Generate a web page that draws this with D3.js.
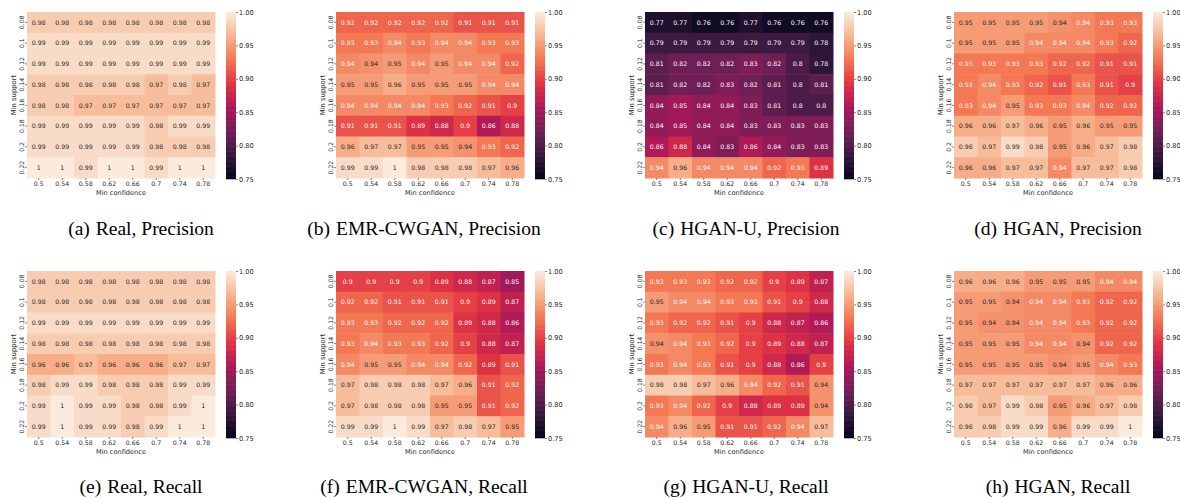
<!DOCTYPE html>
<html>
<head>
<meta charset="utf-8">
<script src="https://cdn.jsdelivr.net/npm/d3@7"></script>
<style>
  html, body { margin: 0; padding: 0; background: #fff; }
  svg { display: block; }
</style>
</head>
<body>
<svg id="chart" width="1180" height="499"></svg>
<script>
// ---------------- DATA ----------------
const minConfidence = ["0.5", "0.54", "0.58", "0.62", "0.66", "0.7", "0.74", "0.78"];
const minSupport = ["0.08", "0.1", "0.12", "0.14", "0.16", "0.18", "0.2", "0.22"];
const colorbarTicks = [0.75, 0.80, 0.85, 0.90, 0.95, 1.00];

const realPrecision = [
  [0.98, 0.98, 0.98, 0.98, 0.98, 0.98, 0.98, 0.98],
  [0.99, 0.99, 0.99, 0.99, 0.99, 0.99, 0.99, 0.99],
  [0.99, 0.99, 0.99, 0.99, 0.99, 0.99, 0.99, 0.99],
  [0.98, 0.98, 0.98, 0.98, 0.98, 0.97, 0.98, 0.97],
  [0.98, 0.98, 0.97, 0.97, 0.97, 0.97, 0.97, 0.97],
  [0.99, 0.99, 0.99, 0.99, 0.99, 0.98, 0.99, 0.99],
  [0.99, 0.99, 0.99, 0.99, 0.99, 0.98, 0.98, 0.98],
  [1, 1, 0.99, 1, 1, 0.99, 1, 1]
];
const emrPrecision = [
  [0.92, 0.92, 0.92, 0.92, 0.92, 0.91, 0.91, 0.91],
  [0.93, 0.93, 0.94, 0.93, 0.94, 0.94, 0.93, 0.93],
  [0.94, 0.9449, 0.95, 0.94, 0.95, 0.94, 0.94, 0.92],
  [0.95, 0.95, 0.96, 0.95, 0.95, 0.95, 0.94, 0.94],
  [0.94, 0.94, 0.94, 0.94, 0.93, 0.92, 0.91, 0.90],
  [0.91, 0.91, 0.91, 0.89, 0.88, 0.90, 0.86, 0.88],
  [0.96, 0.97, 0.97, 0.95, 0.95, 0.9449, 0.93, 0.92],
  [0.99, 0.99, 1, 0.98, 0.98, 0.98, 0.97, 0.96]
];
const hganuPrecision = [
  [0.77, 0.77, 0.76, 0.76, 0.77, 0.76, 0.76, 0.76],
  [0.79, 0.79, 0.79, 0.79, 0.79, 0.79, 0.79, 0.78],
  [0.81, 0.82, 0.82, 0.82, 0.83, 0.82, 0.80, 0.78],
  [0.81, 0.82, 0.82, 0.83, 0.82, 0.81, 0.80, 0.81],
  [0.84, 0.85, 0.84, 0.84, 0.83, 0.81, 0.80, 0.80],
  [0.84, 0.85, 0.84, 0.84, 0.83, 0.83, 0.83, 0.83],
  [0.86, 0.88, 0.84, 0.83, 0.86, 0.84, 0.83, 0.83],
  [0.94, 0.96, 0.94, 0.94, 0.94, 0.92, 0.93, 0.89]
];
const hganPrecision = [
  [0.95, 0.95, 0.95, 0.95, 0.9449, 0.94, 0.93, 0.93],
  [0.95, 0.95, 0.95, 0.94, 0.94, 0.94, 0.93, 0.92],
  [0.93, 0.93, 0.93, 0.93, 0.92, 0.92, 0.91, 0.91],
  [0.93, 0.94, 0.93, 0.92, 0.91, 0.93, 0.91, 0.90],
  [0.93, 0.94, 0.95, 0.93, 0.93, 0.94, 0.92, 0.92],
  [0.96, 0.96, 0.97, 0.96, 0.95, 0.96, 0.95, 0.95],
  [0.98, 0.97, 0.99, 0.98, 0.95, 0.96, 0.97, 0.98],
  [0.96, 0.96, 0.97, 0.97, 0.94, 0.97, 0.97, 0.98]
];
const realRecall = [
  [0.98, 0.98, 0.98, 0.98, 0.98, 0.98, 0.98, 0.98],
  [0.98, 0.98, 0.98, 0.98, 0.98, 0.98, 0.98, 0.98],
  [0.99, 0.99, 0.99, 0.99, 0.99, 0.99, 0.99, 0.99],
  [0.98, 0.98, 0.98, 0.98, 0.98, 0.98, 0.98, 0.98],
  [0.96, 0.96, 0.97, 0.96, 0.96, 0.96, 0.97, 0.97],
  [0.98, 0.99, 0.99, 0.98, 0.98, 0.98, 0.99, 0.99],
  [0.99, 1, 0.99, 0.99, 0.98, 0.98, 0.99, 1],
  [0.99, 1, 0.99, 0.99, 0.98, 0.99, 1, 1]
];
const emrRecall = [
  [0.90, 0.90, 0.90, 0.90, 0.89, 0.88, 0.87, 0.85],
  [0.92, 0.92, 0.91, 0.91, 0.91, 0.90, 0.89, 0.87],
  [0.93, 0.93, 0.92, 0.92, 0.92, 0.89, 0.88, 0.86],
  [0.93, 0.94, 0.93, 0.93, 0.92, 0.90, 0.88, 0.87],
  [0.94, 0.95, 0.95, 0.94, 0.94, 0.92, 0.89, 0.91],
  [0.97, 0.98, 0.98, 0.98, 0.97, 0.96, 0.91, 0.92],
  [0.97, 0.98, 0.98, 0.98, 0.95, 0.95, 0.91, 0.92],
  [0.99, 0.99, 1, 0.99, 0.97, 0.98, 0.97, 0.95]
];
const hganuRecall = [
  [0.93, 0.93, 0.93, 0.92, 0.92, 0.90, 0.89, 0.87],
  [0.95, 0.94, 0.94, 0.93, 0.93, 0.91, 0.90, 0.88],
  [0.93, 0.92, 0.92, 0.91, 0.90, 0.88, 0.87, 0.86],
  [0.9449, 0.94, 0.93, 0.92, 0.90, 0.89, 0.88, 0.87],
  [0.93, 0.94, 0.93, 0.91, 0.90, 0.88, 0.86, 0.90],
  [0.98, 0.98, 0.97, 0.96, 0.94, 0.92, 0.91, 0.9449],
  [0.93, 0.94, 0.92, 0.90, 0.88, 0.89, 0.89, 0.9449],
  [0.94, 0.96, 0.95, 0.91, 0.91, 0.92, 0.94, 0.97]
];
const hganRecall = [
  [0.96, 0.96, 0.96, 0.95, 0.95, 0.95, 0.94, 0.94],
  [0.95, 0.95, 0.9449, 0.94, 0.94, 0.93, 0.92, 0.92],
  [0.95, 0.9449, 0.9449, 0.94, 0.94, 0.93, 0.92, 0.92],
  [0.95, 0.95, 0.95, 0.94, 0.94, 0.9449, 0.92, 0.92],
  [0.95, 0.95, 0.95, 0.95, 0.9449, 0.95, 0.94, 0.93],
  [0.97, 0.97, 0.97, 0.97, 0.97, 0.97, 0.96, 0.96],
  [0.98, 0.97, 0.99, 0.98, 0.95, 0.96, 0.97, 0.98],
  [0.98, 0.98, 0.99, 0.99, 0.96, 0.99, 0.99, 1]
];

const captionLetters = ["(a)", "(b)", "(c)", "(d)", "(e)", "(f)", "(g)", "(h)"];
const captionTexts = [
  "Real, Precision", "EMR-CWGAN, Precision", "HGAN-U, Precision", "HGAN, Precision",
  "Real, Recall", "EMR-CWGAN, Recall", "HGAN-U, Recall", "HGAN, Recall"
];
const panelData = [realPrecision, emrPrecision, hganuPrecision, hganPrecision,
                   realRecall, emrRecall, hganuRecall, hganRecall];

// ---------------- LAYOUT ----------------
const colLeft = [27, 336, 645, 954];
const rowTop = [12, 271];
const cellW = 188, cellH = 166;
const captionCX = [141, 424, 746, 1058];
const captionY = [235, 493];

// rocket colormap (seaborn) approximation, vmin 0.75, vmax 1.0
const rocketStops = ["#03051a", "#35193e", "#701f57", "#ad1759", "#e13342", "#f37651", "#f6b48f", "#faebdd"];
const rocketPos = [0, 1/7, 2/7, 3/7, 4/7, 5/7, 6/7, 1];
const vmin = 0.75, vmax = 1.0;
const color = d3.scaleLinear()
  .domain(rocketPos.map(p => vmin + p * (vmax - vmin)))
  .range(rocketStops)
  .interpolate(d3.interpolateRgb)
  .clamp(true);

const fmt = d3.format(".2~g");
const textColor = v => (v >= 0.9445 ? "#262626" : "#ffffff");

const svg = d3.select("#chart");
const FONT = "DejaVu Sans, sans-serif";
const INK = "#262626";

panelData.forEach((data, idx) => {
  const r = Math.floor(idx / 4), c = idx % 4;
  const x0 = colLeft[c], y0 = rowTop[r];
  const g = svg.append("g").attr("transform", `translate(${x0},${y0})`);

  const x = d3.scaleBand().domain(minConfidence).range([0, cellW]).padding(0);
  const y = d3.scaleBand().domain(minSupport).range([0, cellH]).padding(0);

  const cells = [];
  data.forEach((row, i) => row.forEach((v, j) => cells.push({ s: minSupport[i], c: minConfidence[j], v })));

  g.selectAll("rect.cell").data(cells).join("rect")
    .attr("class", "cell")
    .attr("x", d => x(d.c))
    .attr("y", d => y(d.s))
    .attr("width", x.bandwidth() + 0.5)
    .attr("height", y.bandwidth() + 0.5)
    .attr("fill", d => color(d.v));

  g.selectAll("text.annot").data(cells).join("text")
    .attr("class", "annot")
    .attr("x", d => x(d.c) + x.bandwidth() / 2)
    .attr("y", d => y(d.s) + y.bandwidth() / 2)
    .attr("dy", "0.35em")
    .attr("text-anchor", "middle")
    .attr("font-family", FONT)
    .attr("font-size", 6.2)
    .style("fill", d => textColor(d.v))
    .text(d => fmt(d.v));

  // x axis
  const xAxis = g.append("g").attr("transform", `translate(0,${cellH})`)
    .call(d3.axisBottom(x).tickSize(2).tickPadding(1.5));
  xAxis.attr("color", INK);
  xAxis.select(".domain").remove();
  xAxis.selectAll(".tick line").style("stroke", "#333").attr("stroke-width", 0.6);
  xAxis.selectAll(".tick text").attr("font-family", FONT).attr("font-size", 6.2).style("fill", INK);

  g.append("text")
    .attr("x", cellW / 2).attr("y", cellH + 16.5)
    .attr("text-anchor", "middle")
    .attr("font-family", FONT).attr("font-size", 6.6).style("fill", INK)
    .text("Min confidence");

  // y axis
  const yAxis = g.append("g").call(d3.axisLeft(y).tickSize(2).tickPadding(1.5));
  yAxis.attr("color", INK);
  yAxis.select(".domain").remove();
  yAxis.selectAll(".tick line").style("stroke", "#333").attr("stroke-width", 0.6);
  yAxis.selectAll(".tick text")
    .attr("font-family", FONT).attr("font-size", 6.2).style("fill", INK)
    .attr("text-anchor", "middle")
    .attr("x", 0).attr("dy", 0)
    .attr("transform", "translate(-5.5,0) rotate(-90)")
    .attr("dominant-baseline", "central");

  g.append("text")
    .attr("transform", `translate(-13.5,${cellH / 2}) rotate(-90)`)
    .attr("text-anchor", "middle")
    .attr("dominant-baseline", "central")
    .attr("font-family", FONT).attr("font-size", 6.8).style("fill", INK)
    .text("Min support");

  // colorbar
  const cbX = cellW + 11, cbW = 10;
  const cbScale = d3.scaleLinear().domain([vmin, vmax]).range([cellH + 1, 0]);
  const steps = d3.range(0, 200).map(k => vmin + (vmax - vmin) * k / 200);
  const cb = g.append("g").attr("transform", `translate(${cbX},0)`);
  const stepH = (cellH + 1) / 200;
  cb.selectAll("rect").data(steps).join("rect")
    .attr("x", 0)
    .attr("y", d => cbScale(d) - stepH - 0.3)
    .attr("width", cbW)
    .attr("height", stepH + 0.6)
    .attr("fill", d => color(d + (vmax - vmin) / 400));
  const cbAxis = cb.append("g").attr("transform", `translate(${cbW},0)`)
    .call(d3.axisRight(cbScale).tickValues(colorbarTicks).tickFormat(d3.format(".2f")).tickSize(2).tickPadding(1));
  cbAxis.attr("color", INK);
  cbAxis.select(".domain").remove();
  cbAxis.selectAll(".tick line").style("stroke", "#333").attr("stroke-width", 0.6);
  cbAxis.selectAll(".tick text").attr("font-family", FONT).attr("font-size", 6.6).style("fill", INK);

  // caption
  const cap = svg.append("text")
    .attr("x", captionCX[c]).attr("y", captionY[r])
    .attr("text-anchor", "middle")
    .attr("font-family", "Liberation Serif, Times New Roman, serif")
    .attr("font-size", 19.5)
    .style("fill", "#000");
  cap.append("tspan").text(captionLetters[idx]);
  cap.append("tspan").attr("dx", 6).text(captionTexts[idx]);
});
</script>
</body>
</html>
